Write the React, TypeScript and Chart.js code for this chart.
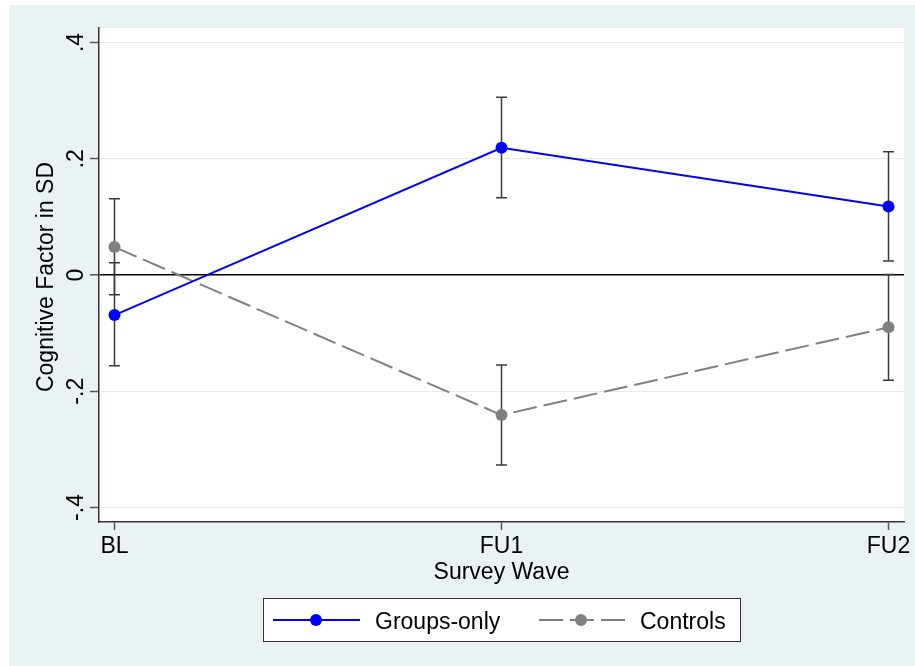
import React, { useEffect, useRef } from 'react';
import { Chart, registerables } from 'chart.js';

Chart.register(...registerables);

const waves = ['BL', 'FU1', 'FU2'];
const wavePositions = [1, 2, 3];
const yTickValues = [-0.4, -0.2, 0, 0.2, 0.4];
const yTickLabels = ['-.4', '-.2', '0', '.2', '.4'];

const groupsMean = [-0.069, 0.219, 0.118];
const groupsLower = [-0.156, 0.133, 0.024];
const groupsUpper = [0.021, 0.306, 0.212];

const controlsMean = [0.048, -0.241, -0.090];
const controlsLower = [-0.034, -0.327, -0.181];
const controlsUpper = [0.131, -0.155, 0.001];

const seriesNames = ['Groups-only', 'Controls'];
const xTitle = 'Survey Wave';
const yTitle = 'Cognitive Factor in SD';

const FONT = '"Liberation Sans", Arial, Helvetica, sans-serif';
const BLUE = '#0000FF';
const GRAY = '#808080';
const BG = '#EAF2F3';

export default function App() {
  const ref = useRef<HTMLCanvasElement>(null);

  useEffect(() => {
    const canvas = ref.current!;
    const errorBars = {
      id: 'errorBars',
      beforeDatasetsDraw(chart: any) {
        const { ctx, scales } = chart;
        const xs = scales.x;
        const ys = scales.y;
        ctx.save();
        ctx.strokeStyle = '#3a3a3a';
        ctx.lineWidth = 1.5;
        const draw = (lo: number[], hi: number[]) => {
          wavePositions.forEach((xv, i) => {
            const px = xs.getPixelForValue(xv);
            const p1 = ys.getPixelForValue(lo[i]);
            const p2 = ys.getPixelForValue(hi[i]);
            ctx.beginPath();
            ctx.moveTo(px, p1);
            ctx.lineTo(px, p2);
            ctx.moveTo(px - 5.5, p1);
            ctx.lineTo(px + 5.5, p1);
            ctx.moveTo(px - 5.5, p2);
            ctx.lineTo(px + 5.5, p2);
            ctx.stroke();
          });
        };
        draw(groupsLower, groupsUpper);
        draw(controlsLower, controlsUpper);
        ctx.restore();
      },
    };

    const decorations = {
      id: 'decorations',
      beforeDraw(chart: any) {
        const { ctx, chartArea } = chart;
        ctx.save();
        ctx.fillStyle = '#FFFFFF';
        ctx.fillRect(chartArea.left, chartArea.top, chartArea.right - chartArea.left, chartArea.bottom - chartArea.top);
        ctx.restore();
      },
      afterDraw(chart: any) {
        const { ctx, chartArea, scales } = chart;
        const xs = scales.x;
        const ys = scales.y;
        ctx.save();
        ctx.fillStyle = '#000';
        ctx.font = `23px ${FONT}`;
        // y tick labels (rotated)
        yTickValues.forEach((v, i) => {
          const py = ys.getPixelForValue(v);
          ctx.save();
          ctx.translate(74, py);
          ctx.rotate(-Math.PI / 2);
          ctx.textAlign = 'center';
          ctx.textBaseline = 'alphabetic';
          ctx.fillText(yTickLabels[i], 0, 0);
          ctx.restore();
        });
        // x tick labels
        ctx.textAlign = 'center';
        ctx.textBaseline = 'alphabetic';
        wavePositions.forEach((v, i) => {
          ctx.fillText(waves[i], xs.getPixelForValue(v), 548);
        });
        // axis titles
        const cx = (chartArea.left + chartArea.right) / 2;
        const cy = (chartArea.top + chartArea.bottom) / 2;
        ctx.fillText(xTitle, cx, 574);
        ctx.save();
        ctx.translate(44, cy + 2);
        ctx.rotate(-Math.PI / 2);
        ctx.fillText(yTitle, 0, 0);
        ctx.restore();

        // legend
        const lw = 477;
        const lh = 43;
        const lx = Math.round(cx - lw / 2);
        const ly = 593;
        ctx.fillStyle = '#FFFFFF';
        ctx.fillRect(lx, ly, lw, lh);
        ctx.strokeStyle = '#333';
        ctx.lineWidth = 1;
        ctx.strokeRect(lx + 0.5, ly + 0.5, lw, lh);
        const my = ly + 22;
        // groups sample
        ctx.strokeStyle = BLUE;
        ctx.lineWidth = 2;
        ctx.beginPath();
        ctx.moveTo(lx + 10, my);
        ctx.lineTo(lx + 97, my);
        ctx.stroke();
        ctx.fillStyle = BLUE;
        ctx.beginPath();
        ctx.arc(lx + 53, my, 6, 0, Math.PI * 2);
        ctx.fill();
        // controls sample
        ctx.strokeStyle = GRAY;
        ctx.setLineDash([24, 7]);
        ctx.beginPath();
        ctx.moveTo(lx + 276, my);
        ctx.lineTo(lx + 362, my);
        ctx.stroke();
        ctx.setLineDash([]);
        ctx.fillStyle = GRAY;
        ctx.beginPath();
        ctx.arc(lx + 318, my, 6, 0, Math.PI * 2);
        ctx.fill();
        ctx.fillStyle = '#000';
        ctx.textAlign = 'left';
        ctx.fillText(seriesNames[0], lx + 112, my + 9);
        ctx.fillText(seriesNames[1], lx + 377, my + 9);
        ctx.restore();
      },
    };

    const chart = new Chart(canvas, {
      type: 'line',
      data: {
        datasets: [
          {
            label: seriesNames[0],
            data: wavePositions.map((x, i) => ({ x, y: groupsMean[i] })),
            borderColor: BLUE,
            backgroundColor: BLUE,
            borderWidth: 2,
            pointRadius: 6,
            pointHoverRadius: 6,
            pointBorderWidth: 0,
            tension: 0,
          },
          {
            label: seriesNames[1],
            data: wavePositions.map((x, i) => ({ x, y: controlsMean[i] })),
            borderColor: GRAY,
            backgroundColor: GRAY,
            borderWidth: 2,
            borderDash: [24, 7],
            pointRadius: 6,
            pointHoverRadius: 6,
            pointBorderWidth: 0,
            tension: 0,
          },
        ],
      },
      options: {
        animation: false,
        responsive: false,
        maintainAspectRatio: false,
        layout: { padding: { top: 23, right: 11, left: 0, bottom: 0 } },
        plugins: { legend: { display: false }, tooltip: { enabled: false } },
        scales: {
          x: {
            type: 'linear',
            min: 0.96,
            max: 3.04,
            afterBuildTicks: (s: any) => {
              s.ticks = wavePositions.map((v) => ({ value: v }));
            },
            afterFit: (s: any) => {
              s.height = 144;
            },
            grid: {
              drawOnChartArea: false,
              drawTicks: true,
              tickLength: 8,
              tickColor: '#555',
              tickWidth: 1.5,
            },
            border: { display: true, color: '#333', width: 1.5 },
            ticks: { display: false },
          },
          y: {
            type: 'linear',
            min: -0.425,
            max: 0.425,
            afterBuildTicks: (s: any) => {
              s.ticks = yTickValues.map((v) => ({ value: v }));
            },
            afterFit: (s: any) => {
              s.width = 90;
            },
            grid: {
              color: (c: any) => (c.tick && c.tick.value === 0 ? '#000' : '#E4ECEE'),
              lineWidth: (c: any) => (c.tick && c.tick.value === 0 ? 1.5 : 1),
              drawTicks: true,
              tickLength: 9,
              tickColor: '#555',
              tickWidth: 1.5,
            },
            border: { display: true, color: '#333', width: 1.5 },
            ticks: { display: false },
          },
        },
      },
      plugins: [errorBars, decorations],
    } as any);

    return () => chart.destroy();
  }, []);

  return (
    <div
      style={{
        position: 'fixed',
        left: 9,
        top: 5,
        width: 906,
        height: 661,
        background: BG,
      }}
    >
      <canvas ref={ref} width={906} height={661} style={{ display: 'block', width: 906, height: 661 }} />
    </div>
  );
}
